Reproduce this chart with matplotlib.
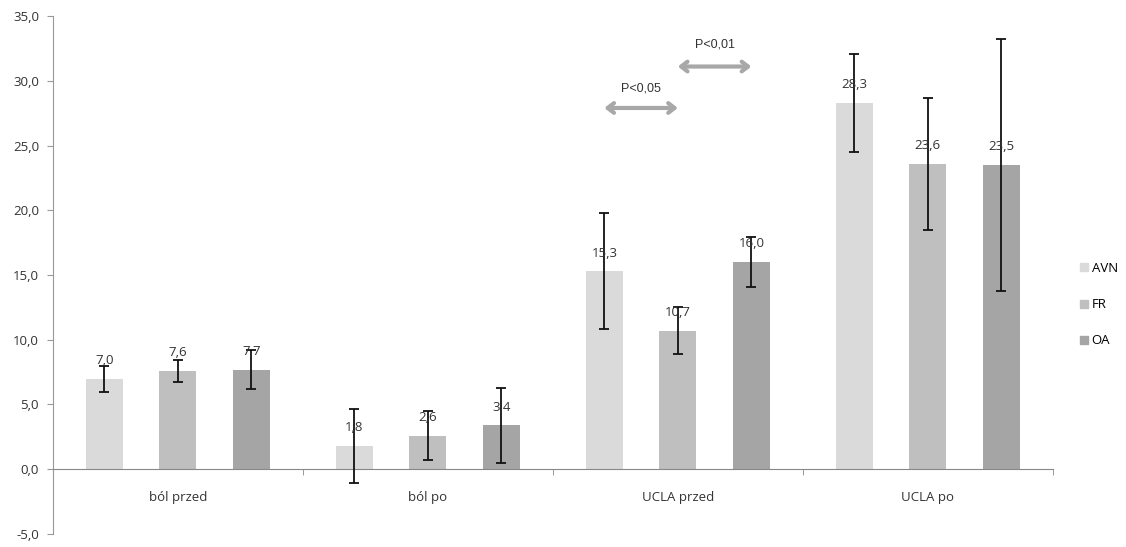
import matplotlib
matplotlib.use("Agg")
import matplotlib.pyplot as plt
import numpy as np
from matplotlib.lines import Line2D

categories = ["ból przed", "ból po", "UCLA przed", "UCLA po"]
series_names = ["AVN", "FR", "OA"]
avn_vals = [7.0, 1.8, 15.3, 28.3]
fr_vals = [7.6, 2.6, 10.7, 23.6]
oa_vals = [7.7, 3.4, 16.0, 23.5]
avn_err = [1.0, 2.85, 4.5, 3.8]
fr_err = [0.85, 1.9, 1.8, 5.1]
oa_err = [1.5, 2.9, 1.95, 9.7]
y_ticks = [-5, 0, 5, 10, 15, 20, 25, 30, 35]
colors = ["#dadada", "#bfbfbf", "#a5a5a5"]

# significance annotations: (category index, from series, to series, label, arrow y, label y)
sig_cat = [2, 2]
sig_from = [0, 1]
sig_to = [1, 2]
sig_labels = ["P<0,05", "P<0,01"]
sig_arrow_y = [27.9, 31.1]
sig_label_y = [29.4, 32.8]

FONT = ["Open Sans", "DejaVu Sans"]
plt.rcParams["font.family"] = FONT

fig = plt.figure(figsize=(11.26, 5.47), dpi=100)
ax = fig.add_axes([0.047, 0.0238, 0.888, 0.9469])

x = np.arange(len(categories))
width = 0.148
step = 0.294
offsets = [-step, 0.0, step]
vals = [avn_vals, fr_vals, oa_vals]
errs = [avn_err, fr_err, oa_err]

for i in range(3):
    xs = x + offsets[i]
    ax.bar(xs, vals[i], width=width, color=colors[i], zorder=2, label=series_names[i])
    ax.errorbar(xs, vals[i], yerr=errs[i], fmt="none", ecolor="#111111",
                elinewidth=1.3, capsize=3.6, capthick=1.3, zorder=3)
    for xi, v in zip(xs, vals[i]):
        ax.annotate(f"{v:.1f}".replace(".", ","), (xi, v), xytext=(0, 13),
                    textcoords="offset points", ha="center", va="center",
                    fontsize=9.5, color="#333333", zorder=4)

for c, f, t, lab, ay, ly in zip(sig_cat, sig_from, sig_to, sig_labels, sig_arrow_y, sig_label_y):
    x0 = c + offsets[f]
    x1 = c + offsets[t]
    ax.annotate("", xy=(x1, ay), xytext=(x0, ay),
                arrowprops=dict(arrowstyle="<->,head_length=0.45,head_width=0.35",
                                lw=3, color="#a8a8a8", shrinkA=0, shrinkB=0))
    ax.text((x0 + x1) / 2, ly, lab, ha="center", va="center", fontsize=9,
            color="#333333", family=["Liberation Sans", "DejaVu Sans"])

ax.set_xlim(-0.5, len(categories) - 0.5)
ax.set_ylim(-5, 35)
ax.set_yticks(y_ticks)
ax.set_yticklabels([f"{t:.1f}".replace(".", ",") for t in y_ticks], fontsize=9.5, color="#333333")

for s in ["top", "right"]:
    ax.spines[s].set_visible(False)
ax.spines["left"].set_color("#999999")
ax.spines["bottom"].set_position(("data", 0))
ax.spines["bottom"].set_color("#888888")
ax.tick_params(axis="y", direction="out", length=4, color="#999999", pad=6)

ax.set_xticks(x)
ax.set_xticklabels(categories, fontsize=9.5, color="#333333")
ax.tick_params(axis="x", which="major", length=0, pad=16)
ax.set_xticks(np.arange(len(categories) + 1) - 0.5, minor=True)
ax.tick_params(axis="x", which="minor", length=4, color="#888888", direction="out")

handles = [Line2D([0], [0], marker="s", linestyle="none", markersize=6,
                  markerfacecolor=colors[i], markeredgecolor=colors[i]) for i in range(3)]
fig.legend(handles, series_names, loc="center left", bbox_to_anchor=(0.952, 0.443),
           frameon=False, fontsize=9.5, labelspacing=1.75, handletextpad=0.2,
           handlelength=0.8, borderpad=0)

fig.savefig("out.png", dpi=100)
